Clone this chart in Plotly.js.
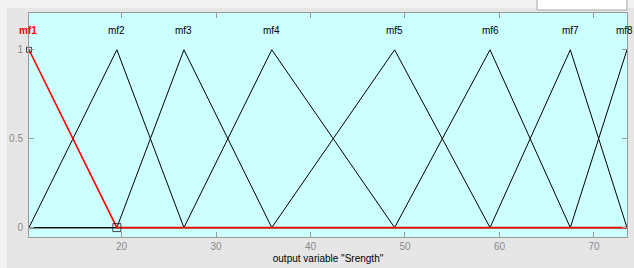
<!DOCTYPE html>
<html><head><meta charset="utf-8">
<script src="https://cdn.plot.ly/plotly-3.0.1.min.js"></script>
<style>html,body{margin:0;padding:0;background:#fff}#chart{width:634px;height:268px}</style>
</head><body><div id="chart"></div>
<script>
// Data
const mfNames = ["mf1","mf2","mf3","mf4","mf5","mf6","mf7","mf8"];
const mfLeft  = [0.9, 10.2, 19.5, 26.6, 35.9, 48.9, 59.0, 67.5];
const mfPeak  = [10.2, 19.5, 26.6, 35.9, 48.9, 59.0, 67.5, 73.5];
const mfRight = [19.5, 26.6, 35.9, 48.9, 59.0, 67.5, 73.5, 82.8];
const xRange = [10.2, 73.5];
const xTicks = [20, 30, 40, 50, 60, 70];
const yTicks = [0, 0.5, 1];
const yTickText = ["0", "0.5", "1"];
const selected = 0;

function trimf(x, a, b, c) {
  if (x <= a || x >= c) return (x === b) ? 1 : 0;
  return x <= b ? (x - a) / (b - a) : (c - x) / (c - b);
}
function mfTrace(i, color, width) {
  const a = mfLeft[i], b = mfPeak[i], c = mfRight[i];
  let xs = [xRange[0], a, b, c, xRange[1]].filter(v => v >= xRange[0] && v <= xRange[1]);
  xs = [...new Set(xs)].sort((p, q) => p - q);
  return {x: xs, y: xs.map(v => trimf(v, a, b, c)), mode: 'lines', type: 'scatter',
    line: {color: color, width: width}, hoverinfo: 'skip', showlegend: false, cliponaxis: false};
}
const traces = [];
for (let i = 0; i < mfNames.length; i++) if (i !== selected) traces.push(mfTrace(i, '#000', 1));
traces.push(mfTrace(selected, '#ff0000', 1.6));
traces.push({x: [mfPeak[selected], mfRight[selected]], y: [1, 0], mode: 'markers', type: 'scatter',
  marker: {symbol: 'square-open', size: [5, 8], color: '#000', line: {width: 1, color: '#000'}},
  showlegend: false, cliponaxis: false, hoverinfo: 'skip'});

const annotations = mfNames.map((n, i) => ({
  x: mfPeak[i], y: 1.107, xref: 'x', yref: 'y', text: i === selected ? '<b>' + n + '</b>' : n,
  showarrow: false, xanchor: 'center', yanchor: 'middle',
  xshift: i === mfNames.length - 1 ? -3 : (i === selected ? -1 : 0),
  font: {family: 'Arial, Liberation Sans, sans-serif', size: 10, color: i === selected ? '#ff0000' : '#000'}
}));

const layout = {
  width: 634, height: 268,
  margin: {l: 29, r: 7, t: 13, b: 31, pad: 0},
  paper_bgcolor: '#e6e6e6', plot_bgcolor: '#ccffff',
  font: {family: 'Arial, Liberation Sans, sans-serif', size: 10, color: '#000'},
  xaxis: {range: xRange, tickvals: xTicks, ticks: 'inside', ticklen: 5, tickcolor: '#999',
    showline: true, linecolor: '#999', linewidth: 1, mirror: 'allticks', showgrid: false, zeroline: false,
    tickfont: {size: 10, color: '#8a8a8a'},
    title: {text: 'output variable "Srength"', font: {size: 10, color: '#000'}, standoff: 3},
    automargin: false, fixedrange: true},
  yaxis: {range: [-0.053, 1.207], tickvals: yTicks, ticktext: yTickText, ticks: 'inside', ticklen: 5,
    tickcolor: '#999', showline: true, linecolor: '#999', linewidth: 1, mirror: 'allticks',
    showgrid: false, zeroline: false, tickfont: {size: 10, color: '#8a8a8a'}, ticklabelstandoff: 3,
    automargin: false, fixedrange: true},
  annotations: annotations,
  shapes: [
    {type: 'rect', xref: 'paper', yref: 'paper', x0: -0.06, x1: 1.07, y0: (237 - 8) / 224, y1: 1.2,
      fillcolor: '#f2f2f2', line: {width: 0}, layer: 'above'},
    {type: 'rect', xref: 'paper', yref: 'paper', x0: -0.06, x1: (7 - 29) / 598, y0: -0.2, y1: 1.2,
      fillcolor: '#f2f2f2', line: {width: 0}, layer: 'above'},
    {type: 'rect', xref: 'paper', yref: 'paper', x0: (537 - 29) / 598, x1: (627 - 29) / 598,
      y0: (237 - 10) / 224, y1: 1.1, fillcolor: '#ffffff', line: {width: 1, color: '#a8a8a8'}, layer: 'above'}
  ],
  showlegend: false
};
Plotly.newPlot('chart', traces, layout, {displayModeBar: false, staticPlot: true});
</script></body></html>
